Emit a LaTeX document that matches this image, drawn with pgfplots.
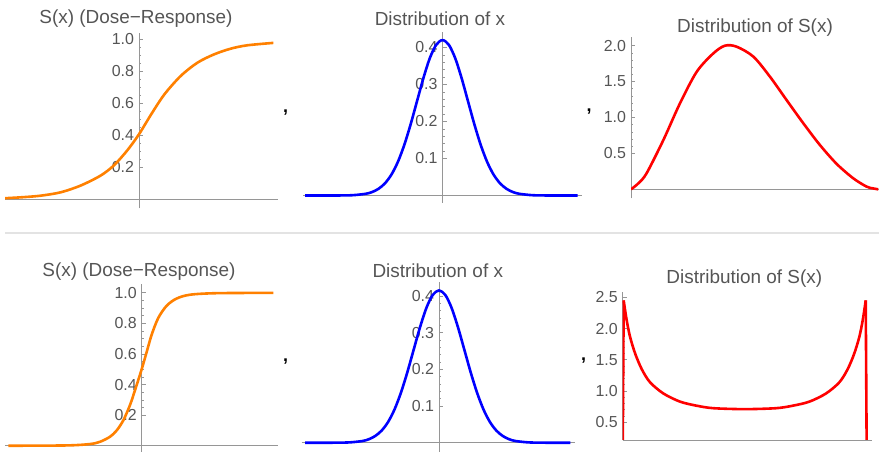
\documentclass[border=0pt]{standalone}
\usepackage{fontspec}
\setmainfont{Liberation Sans}
\usepackage{pgfplots}
\pgfplotsset{compat=1.18}

\definecolor{axcol}{RGB}{150,150,150}
\definecolor{txt}{RGB}{85,85,85}
\definecolor{mmaorange}{RGB}{255,128,0}

\pgfplotsset{
  mma/.style={
    scale only axis,
    anchor=south west,
    axis x line*=middle,
    axis y line*=middle,
    xtick=\empty,
    axis line style={axcol, line width=0.9bp},
    tick style={axcol, line width=0.6bp},
    major tick length=4bp,
    minor tick length=2bp,
    tick align=inside,
    /pgf/number format/assume math mode=true,
    yticklabel style={font=\fontsize{16}{16}\selectfont, text=txt, xshift=-1.5bp,
      /pgf/number format/fixed, /pgf/number format/fixed zerofill,
      /pgf/number format/precision=1},
  },
  curve/.style={line width=2.6bp, line join=round, smooth},
}
\tikzset{ttl/.style={anchor=base, font=\fontsize{19}{21}\selectfont, text=txt, inner sep=0pt}}

\begin{document}
\begin{tikzpicture}
\path[use as bounding box] (0,0) rectangle (879bp,452bp);

% row separator
\draw[gray!22, line width=1.2bp] (5bp,219bp) -- (879bp,219bp);

% ---- top row ----
\begin{axis}[mma, at={(5bp,243.7bp)}, width=273.3bp, height=175bp,
  xmin=-5.255, xmax=5.463, ymin=-0.058, ymax=1.036,
  ytick={0.2,0.4,0.6,0.8,1.0}, minor y tick num=3]
\addplot[curve, mmaorange] coordinates {
  (-5.25,0.005) (-4.5,0.012) (-3.85,0.021) (-3.07,0.042) (-2.29,0.084)
  (-1.5,0.147) (-0.98,0.211) (-0.45,0.306) (0,0.405) (0.5,0.535)
  (1.0,0.655) (1.64,0.77) (2.29,0.852) (2.94,0.904) (3.6,0.94)
  (4.25,0.961) (5.27,0.976)};
\end{axis}

\begin{axis}[mma, at={(303.3bp,249bp)}, width=278.4bp, height=171.3bp,
  xmin=-5.459, xmax=5.459, ymin=-0.0203, ymax=0.4427,
  ytick={0.1,0.2,0.3,0.4}, minor y tick num=4]
\addplot[curve, blue] coordinates {
  (-5.39,0) (-4.5,0) (-4,0.0001) (-3.5,0.0009) (-3,0.0047) (-2.75,0.0096)
  (-2.5,0.0185) (-2.25,0.0334) (-2,0.0568) (-1.75,0.0908) (-1.5,0.1364)
  (-1.25,0.1923) (-1,0.2547) (-0.75,0.3170) (-0.5,0.3707) (-0.25,0.4071)
  (0,0.42) (0.25,0.4071) (0.5,0.3707) (0.75,0.3170) (1,0.2547)
  (1.25,0.1923) (1.5,0.1364) (1.75,0.0908) (2,0.0568) (2.25,0.0334)
  (2.5,0.0185) (2.75,0.0096) (3,0.0047) (3.5,0.0009) (4,0.0001)
  (4.5,0) (5.3,0)};
\end{axis}

\begin{axis}[mma, at={(631bp,253.7bp)}, width=248bp, height=161.6bp,
  xmin=0, xmax=1.003, ymin=-0.125, ymax=2.125,
  ytick={0.5,1.0,1.5,2.0}, minor y tick num=4]
\addplot[curve, red] coordinates {
  (0,0) (0.03,0.084) (0.063,0.223) (0.131,0.687) (0.198,1.197)
  (0.266,1.638) (0.333,1.893) (0.38,2.0) (0.427,1.986) (0.495,1.847)
  (0.562,1.568) (0.629,1.244) (0.697,0.919) (0.764,0.617) (0.832,0.353)
  (0.899,0.153) (0.953,0.037) (0.98,0.012) (1.0,0)};
\end{axis}

% ---- bottom row ----
\begin{axis}[mma, at={(5bp,0.3bp)}, width=273.3bp, height=167.7bp,
  xmin=-5.36, xmax=5.357, ymin=-0.039, ymax=1.057,
  ytick={0.2,0.4,0.6,0.8,1.0}, minor y tick num=3]
\addplot[curve, mmaorange] coordinates {
  (-5.23,0.0) (-2.94,0.002) (-2.03,0.011) (-1.63,0.026) (-1.24,0.059)
  (-0.98,0.10) (-0.72,0.166) (-0.46,0.265) (-0.26,0.364) (0,0.5)
  (0.2,0.615) (0.39,0.725) (0.65,0.835) (0.98,0.915) (1.37,0.962)
  (1.9,0.987) (2.94,0.997) (5.16,0.999)};
\end{axis}

\begin{axis}[mma, at={(301.7bp,0.3bp)}, width=273.3bp, height=170bp,
  xmin=-5.384, xmax=5.333, ymin=-0.0245, ymax=0.4387,
  ytick={0.1,0.2,0.3,0.4}, minor y tick num=4]
\addplot[curve, blue] coordinates {
  (-5.25,0) (-4.5,0) (-4,0.0001) (-3.5,0.0009) (-3,0.0046) (-2.75,0.0095)
  (-2.5,0.0183) (-2.25,0.0330) (-2,0.0561) (-1.75,0.0897) (-1.5,0.1348)
  (-1.25,0.1900) (-1,0.2517) (-0.75,0.3132) (-0.5,0.3663) (-0.25,0.4023)
  (0,0.415) (0.25,0.4023) (0.5,0.3663) (0.75,0.3132) (1,0.2517)
  (1.25,0.1900) (1.5,0.1348) (1.75,0.0897) (2,0.0561) (2.25,0.0330)
  (2.5,0.0183) (2.75,0.0095) (3,0.0046) (3.5,0.0009) (4,0.0001)
  (4.5,0) (5.15,0)};
\end{axis}

\begin{axis}[mma, axis x line*=bottom, at={(622.7bp,12bp)}, width=249bp, height=148.3bp,
  xmin=0, xmax=1.0205, ymin=0.216, ymax=2.59,
  ytick={0.5,1.0,1.5,2.0,2.5}, minor y tick num=4]
\addplot[line width=2.6bp, red] coordinates {(0,0) (0.004,2.45)};
\addplot[curve, red] coordinates {
  (0.004,2.45) (0.016,2.14) (0.030,1.87) (0.051,1.60) (0.078,1.35)
  (0.112,1.14) (0.167,0.96) (0.235,0.83) (0.303,0.765) (0.372,0.725)
  (0.5,0.71) (0.628,0.725) (0.697,0.765) (0.765,0.83) (0.833,0.96)
  (0.888,1.14) (0.922,1.35) (0.949,1.60) (0.970,1.87) (0.984,2.14)
  (0.996,2.45)};
\addplot[line width=2.6bp, red] coordinates {(0.996,2.45) (1.0,0)};
\end{axis}

% titles
\node[ttl] at (136bp,428.7bp) {S(x) (Dose−Response)};
\node[ttl] at (440bp,426bp) {Distribution of x};
\node[ttl] at (755bp,419.7bp) {Distribution of S(x)};
\node[ttl] at (139bp,175.3bp) {S(x) (Dose−Response)};
\node[ttl] at (437.8bp,174.7bp) {Distribution of x};
\node[ttl] at (744.3bp,168.7bp) {Distribution of S(x)};

% separating commas of the list output
\node[font=\fontsize{18}{18}\selectfont\bfseries] at (285.5bp,339bp) {,};
\node[font=\fontsize{18}{18}\selectfont\bfseries] at (589bp,340bp) {,};
\node[font=\fontsize{18}{18}\selectfont\bfseries] at (285.5bp,90bp) {,};
\node[font=\fontsize{18}{18}\selectfont\bfseries] at (583.5bp,91.5bp) {,};
\end{tikzpicture}
\end{document}
